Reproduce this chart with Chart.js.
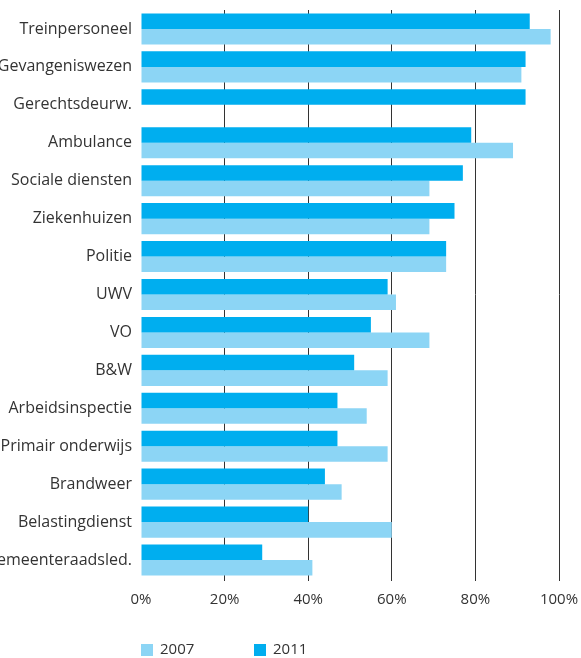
<!DOCTYPE html>
<html>
<head>
<meta charset="utf-8">
<script src="https://cdn.jsdelivr.net/npm/chart.js@4"></script>
<style>
  html, body { margin: 0; padding: 0; background: #fff; }
  #wrap { width: 581px; height: 658px; }
</style>
</head>
<body>
<div id="wrap"><canvas id="chart" width="581" height="658"></canvas></div>
<script>
const categories = [
    'Treinpersoneel', 'Gevangeniswezen', 'Gerechtsdeurw.', 'Ambulance',
    'Sociale diensten', 'Ziekenhuizen', 'Politie', 'UWV', 'VO', 'B&W',
    'Arbeidsinspectie', 'Primair onderwijs', 'Brandweer', 'Belastingdienst',
    'Gemeenteraadsled.'
];
const values2011 = [93, 92, 92, 79, 77, 75, 73, 59, 55, 51, 47, 47, 44, 40, 29];
const values2007 = [98, 91, null, 89, 69, 69, 73, 61, 69, 59, 54, 59, 48, 60, 41];
const xTicks = [0, 20, 40, 60, 80, 100];

const FONT = '"Open Sans", "DejaVu Sans", sans-serif';
const TEXT = '#333';

// legend drawn by hand under the axis, starting at the plot's left edge
const bottomLegend = {
    id: 'bottomLegend',
    afterDraw(chart) {
        const ctx = chart.ctx;
        const items = chart.data.datasets.slice().reverse();
        let x = chart.scales.x.left;
        const y = 650;
        ctx.save();
        ctx.font = '15px ' + FONT;
        ctx.textBaseline = 'middle';
        items.forEach(ds => {
            ctx.fillStyle = ds.backgroundColor;
            ctx.fillRect(x, y - 6, 12, 12);
            ctx.fillStyle = TEXT;
            ctx.fillText(ds.label, x + 19, y);
            x += 113;
        });
        ctx.restore();
    }
};

new Chart(document.getElementById('chart').getContext('2d'), {
    type: 'bar',
    data: {
        labels: categories,
        datasets: [
            { label: '2011', data: values2011, backgroundColor: '#00aeef' },
            { label: '2007', data: values2007, backgroundColor: '#8cd5f5' }
        ]
    },
    options: {
        indexAxis: 'y',
        responsive: false,
        animation: false,
        categoryPercentage: 0.82,
        barPercentage: 1.0,
        layout: { padding: { top: 10, right: 22, bottom: 39, left: 0 } },
        plugins: {
            legend: { display: false },
            tooltip: { enabled: false }
        },
        scales: {
            x: {
                min: 0,
                max: 100,
                afterBuildTicks: scale => { scale.ticks = xTicks.map(v => ({ value: v })); },
                afterFit: scale => {
                    scale.paddingLeft = 0;
                    scale.paddingRight = 0;
                },
                ticks: {
                    padding: 10,
                    color: TEXT,
                    font: { family: FONT, size: 15 },
                    callback: v => v + '%'
                },
                grid: {
                    color: ctx => ctx.tick && ctx.tick.value === 0 ? 'rgba(0,0,0,0)' : '#333',
                    lineWidth: 1,
                    tickLength: 2
                },
                border: { display: false }
            },
            y: {
                afterFit: scale => {
                    scale.width = 141;
                    scale.paddingTop = 0;
                    scale.paddingBottom = 0;
                },
                ticks: {
                    padding: 9,
                    color: TEXT,
                    font: { family: FONT, size: 16 },
                    autoSkip: false
                },
                grid: { display: false, drawTicks: false },
                border: { display: false }
            }
        }
    },
    plugins: [bottomLegend]
});
</script>
</body>
</html>
